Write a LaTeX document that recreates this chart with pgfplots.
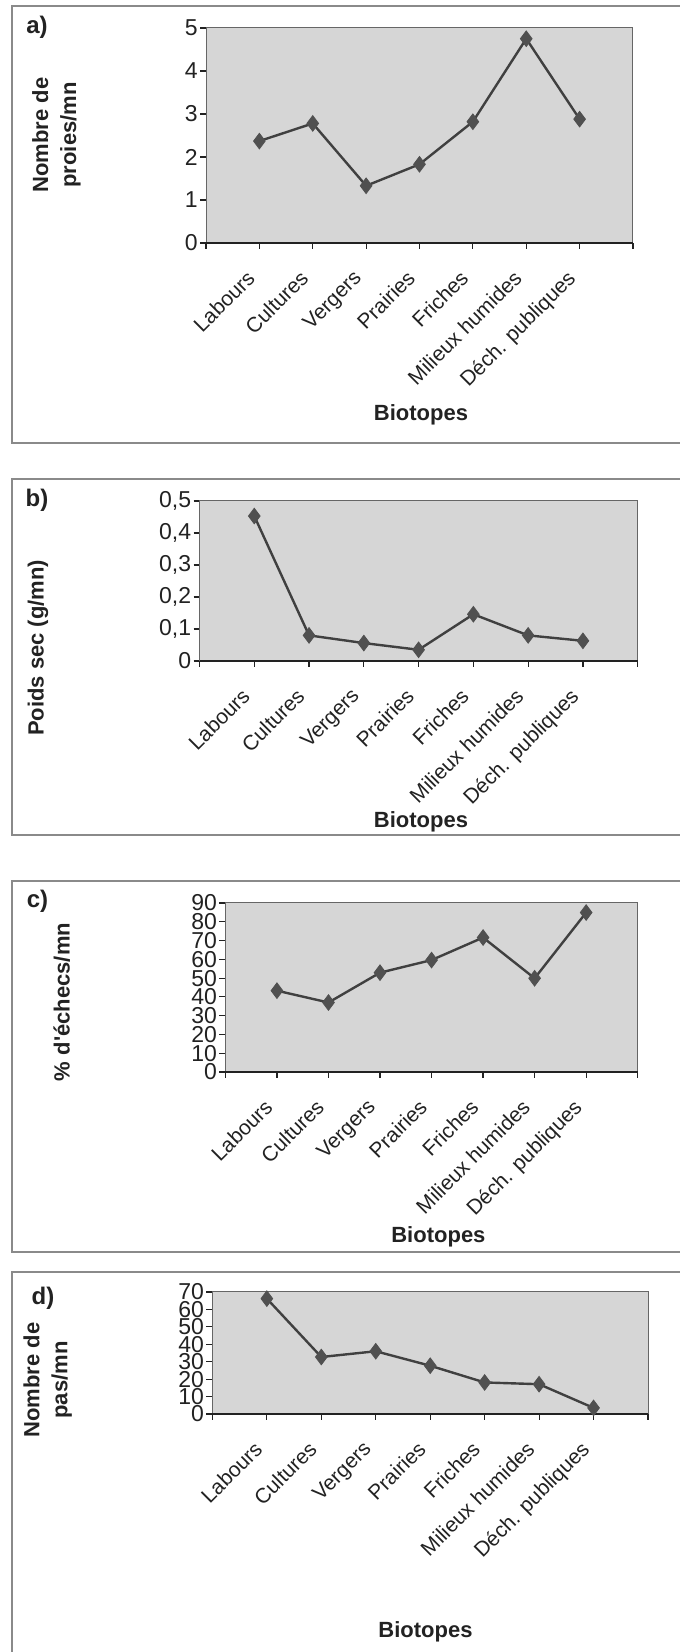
\documentclass[border=0pt]{standalone}
\usepackage{pgfplots}
\pgfplotsset{compat=1.18}
\usepackage{fontspec}
\setmainfont{Liberation Sans}[Ligatures=TeXOff]
\definecolor{linec}{HTML}{404040}
\definecolor{markc}{HTML}{505050}
\definecolor{bgc}{HTML}{D6D6D6}
\definecolor{framec}{HTML}{8A8A8A}
\definecolor{txtc}{HTML}{222222}
\pgfplotsset{
  panel/.style={
    scale only axis, anchor=south west, clip=false,
    xmin=-1, xmax=7, xtick={-1,0,...,7},
    xticklabels={,Labours,Cultures,Vergers,Prairies,Friches,Milieux humides,Déch. publiques,},
    ymin=0,
    tick pos=left, tick align=outside, major tick length=3pt,
    tick style={txtc, line width=0.6pt},
    axis line style={draw=gray!80!black, line width=0.5pt},
    axis background/.style={fill=bgc},
    xticklabel style={xshift=-7pt, yshift=-9pt, rotate=45, anchor=north east, inner sep=0.5pt, font=\fontsize{10.5}{12}\selectfont, text=txtc},
    yticklabel style={font=\fontsize{11.5}{12}\selectfont, text=txtc, inner sep=1pt},
    /pgf/number format/assume math mode=true,
  },
  ser/.style={color=linec, line width=1.2pt, mark=diamond*, mark size=3.9pt, mark options={fill=markc, draw=markc, line width=0.4pt}},
}
\newcommand{\ttl}{\fontsize{11}{14}\selectfont\bfseries}
\begin{document}
\begin{tikzpicture}
\useasboundingbox (0,0) rectangle (339.5pt,826pt);
% frames
\begin{scope}[draw=framec, line width=0.6pt]
\draw (345pt,823pt) -- (6pt,823pt) -- (6pt,604.5pt) -- (345pt,604.5pt);
\draw (345pt,586.5pt) -- (6pt,586.5pt) -- (6pt,408.5pt) -- (345pt,408.5pt);
\draw (345pt,385.5pt) -- (6pt,385.5pt) -- (6pt,200pt) -- (345pt,200pt);
\draw (345pt,190pt) -- (6pt,190pt) -- (6pt,-5pt);
\end{scope}
% panel letters
\node[font=\fontsize{12}{14}\selectfont\bfseries, text=txtc] at (18.5pt,812.25pt) {a)};
\node[font=\fontsize{12}{14}\selectfont\bfseries, text=txtc] at (18.5pt,576pt) {b)};
\node[font=\fontsize{12}{14}\selectfont\bfseries, text=txtc] at (18.75pt,375.5pt) {c)};
\node[font=\fontsize{12}{14}\selectfont\bfseries, text=txtc] at (21.5pt,177pt) {d)};
% y labels
\node[rotate=90, align=center, font=\ttl, text=txtc] at (28.2pt,758.5pt) {Nombre de\\proies/mn};
\node[rotate=90, font=\ttl, text=txtc] at (19pt,502pt) {Poids sec (g/mn)};
\node[rotate=90, font=\ttl, text=txtc] at (30.9pt,325pt) {\% d'échecs/mn};
\node[rotate=90, align=center, font=\ttl, text=txtc] at (23.9pt,136pt) {Nombre de\\pas/mn};
% x labels
\node[font=\ttl, text=txtc] at (210.5pt,618.5pt) {Biotopes};
\node[font=\ttl, text=txtc] at (210.5pt,415pt) {Biotopes};
\node[font=\ttl, text=txtc] at (219.2pt,207.5pt) {Biotopes};
\node[font=\ttl, text=txtc] at (212.75pt,10pt) {Biotopes};

% a
\begin{axis}[panel, at={(103pt,704.5pt)}, width=213.5pt, height=107.5pt,
  ymax=5, ytick={0,1,2,3,4,5}]
\draw[line width=1pt, txtc] (rel axis cs:0,0) -- (rel axis cs:1,0);
\addplot[ser] coordinates {(0,2.37) (1,2.78) (2,1.33) (3,1.83) (4,2.82) (5,4.75) (6,2.88)};
\end{axis}
% b
\begin{axis}[panel, at={(99.75pt,495.5pt)}, width=219.1pt, height=80pt,
  ymax=0.5, ytick={0,0.1,0.2,0.3,0.4,0.5},
  yticklabel style={/pgf/number format/.cd, fixed, precision=1, use comma}]
\draw[line width=1pt, txtc] (rel axis cs:0,0) -- (rel axis cs:1,0);
\addplot[ser] coordinates {(0,0.453) (1,0.080) (2,0.056) (3,0.035) (4,0.146) (5,0.080) (6,0.063)};
\end{axis}
% c
\begin{axis}[panel, at={(112.7pt,290pt)}, width=206.15pt, height=84.5pt,
  ymax=90, ytick={0,10,...,90}]
\draw[line width=1pt, txtc] (rel axis cs:0,0) -- (rel axis cs:1,0);
\addplot[ser] coordinates {(0,43.3) (1,37.0) (2,52.9) (3,59.6) (4,71.6) (5,49.9) (6,84.9)};
\end{axis}
% d
\begin{axis}[panel, at={(106.2pt,119pt)}, width=217.8pt, height=61pt,
  ymax=70, ytick={0,10,...,70}]
\draw[line width=1pt, txtc] (rel axis cs:0,0) -- (rel axis cs:1,0);
\addplot[ser] coordinates {(0,66.2) (1,32.7) (2,36.0) (3,27.7) (4,18.1) (5,17.1) (6,3.5)};
\end{axis}
\end{tikzpicture}
\end{document}
